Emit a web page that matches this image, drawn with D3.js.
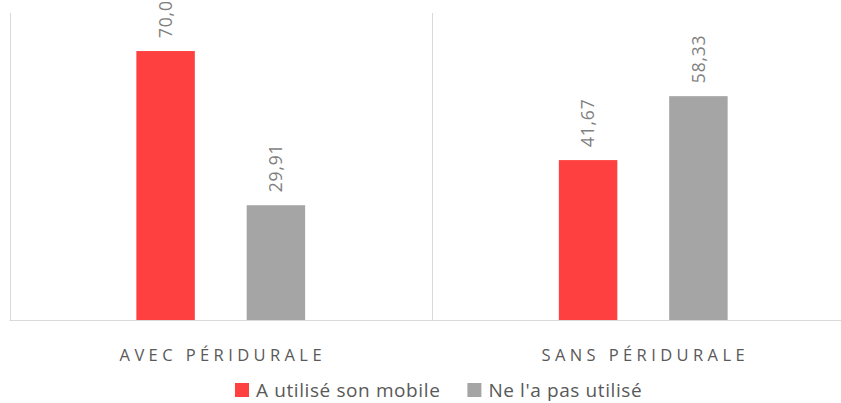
<!DOCTYPE html>
<html><head><meta charset="utf-8">
<script src="https://cdn.jsdelivr.net/npm/d3@7"></script>
<style>
html,body{margin:0;padding:0;background:#fff;}
svg{display:block;font-family:"Open Sans",sans-serif;}
</style></head>
<body><svg id="c" width="841" height="403"></svg>
<script>
const categories = ["AVEC PÉRIDURALE", "SANS PÉRIDURALE"];
const seriesNames = ["A utilisé son mobile", "Ne l'a pas utilisé"];
const seriesA = [70.09, 41.67];
const seriesB = [29.91, 58.33];
const colors = ["#ff4040", "#a5a5a5"];
const yDomain = [0, 80];

(function(){
const svg = d3.select("#c");
const pLeft = 9.5, pRight = 854.5, pTop = 13, pBottom = 320;
const x0 = d3.scaleBand().domain(categories).range([pLeft, pRight]).padding(0);
const x1 = d3.scaleBand().domain(seriesNames).range([0, x0.bandwidth()]).paddingInner(0.47).paddingOuter(1.15);
const y = d3.scaleLinear().domain(yDomain).range([pBottom, pTop]);

// vertical separators
const bounds = categories.map(c => x0(c)).concat([x0(categories[categories.length-1]) + x0.bandwidth()]);
svg.append("g").selectAll("line").data(bounds).join("line")
  .attr("x1", d => Math.round(d) + 0.5).attr("x2", d => Math.round(d) + 0.5)
  .attr("y1", pTop).attr("y2", pBottom)
  .attr("stroke", "#d9d9d9").attr("stroke-width", 1);

const data = categories.map((c, i) => ({cat: c, vals: [{s: seriesNames[0], v: seriesA[i], col: colors[0]}, {s: seriesNames[1], v: seriesB[i], col: colors[1]}]}));

const g = svg.append("g").selectAll("g").data(data).join("g")
  .attr("transform", d => `translate(${x0(d.cat)},0)`);
g.selectAll("rect").data(d => d.vals).join("rect")
  .attr("x", d => x1(d.s)).attr("width", x1.bandwidth())
  .attr("y", d => y(d.v)).attr("height", d => y(0) - y(d.v))
  .attr("fill", d => d.col);
g.selectAll("text").data(d => d.vals).join("text")
  .attr("transform", d => `translate(${x1(d.s) + x1.bandwidth()/2},${y(d.v) - 13}) rotate(-90)`)
  .attr("dy", "0.35em")
  .attr("text-anchor", "start")
  .attr("font-size", 17.5).attr("letter-spacing", 0.8)
  .attr("fill", "#7f7f7f")
  .text(d => d3.format(".2f")(d.v).replace(".", ","));

// baseline
svg.append("line").attr("x1", pLeft).attr("x2", 841).attr("y1", pBottom + 0.5).attr("y2", pBottom + 0.5)
  .attr("stroke", "#d9d9d9");

// category labels
svg.append("g").selectAll("text").data(categories).join("text")
  .attr("x", d => x0(d) + x0.bandwidth()/2 + 2)
  .attr("y", 361)
  .attr("text-anchor", "middle")
  .attr("font-size", 16.5).attr("letter-spacing", 4.4)
  .attr("fill", "#595959")
  .text(d => d);

// legend
const lg = svg.append("g");
let lx = 235;
seriesNames.forEach((s, i) => {
  lg.append("rect").attr("x", lx).attr("y", 383).attr("width", 14).attr("height", 14).attr("fill", colors[i]);
  const t = lg.append("text").attr("x", lx + 21).attr("y", 397).attr("font-size", 19)
    .attr("letter-spacing", 0.6)
    .attr("fill", "#595959").text(s);
  lx = lx + 21 + t.node().getComputedTextLength() + 27;
});
})();
</script></body></html>
